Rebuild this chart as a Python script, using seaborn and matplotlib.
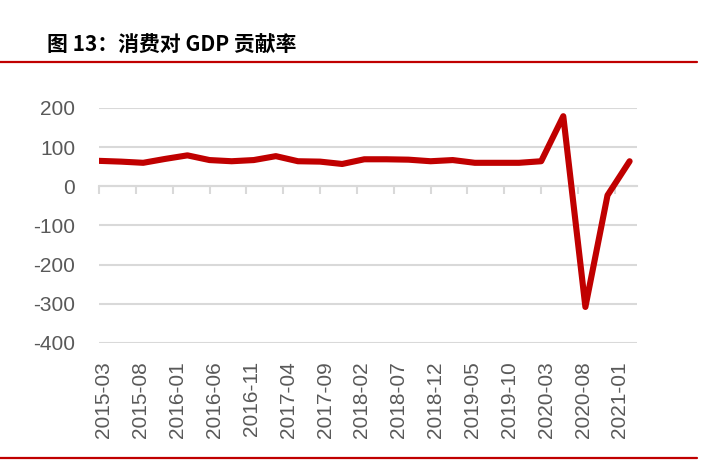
import pandas as pd
import seaborn as sns
import matplotlib.pyplot as plt
import matplotlib.transforms as mtransforms
from matplotlib.lines import Line2D

# --- DATA ---
QUARTERS = [
    "2015-03", "2015-06", "2015-09", "2015-12",
    "2016-03", "2016-06", "2016-09", "2016-12",
    "2017-03", "2017-06", "2017-09", "2017-12",
    "2018-03", "2018-06", "2018-09", "2018-12",
    "2019-03", "2019-06", "2019-09", "2019-12",
    "2020-03", "2020-06", "2020-09", "2020-12",
    "2021-03",
]
CONTRIBUTION = [
    65, 63, 60, 70,
    79, 67, 64, 67,
    77, 64, 63, 57,
    69, 69, 68, 64,
    67, 60, 60, 60,
    64, 179, -308, -23,
    64,
]
TICK_LABELS = [
    "2015-03", "2015-08", "2016-01", "2016-06", "2016-11", "2017-04",
    "2017-09", "2018-02", "2018-07", "2018-12", "2019-05", "2019-10",
    "2020-03", "2020-08", "2021-01",
]
Y_TICKS = [-400, -300, -200, -100, 0, 100, 200]
TITLE = "图 13：消费对 GDP 贡献率"

RED = "#C00000"
GRID = "#D9D9D9"
TEXT_GRAY = "#595959"


def month_index(labels):
    # months elapsed since the first quarter, so the x axis behaves like a date axis
    d = pd.to_datetime(labels, format="%Y-%m")
    return (d.year - 2015) * 12 + (d.month - 3)


def main():
    sns.set_theme(style="white")
    plt.rcParams["font.family"] = ["Liberation Sans", "Noto Sans CJK SC", "DejaVu Sans"]

    df = pd.DataFrame({"month": month_index(QUARTERS), "value": CONTRIBUTION})
    tick_pos = list(month_index(TICK_LABELS))

    fig = plt.figure(figsize=(7.11, 4.61), dpi=100)
    ax = fig.add_axes([0.1392, 0.256, 0.7567, 0.5098])

    sns.lineplot(data=df, x="month", y="value", color=RED, linewidth=4.4,
                 solid_capstyle="round", solid_joinstyle="round", ax=ax, zorder=3)

    ax.set_xlim(0, 73.0)
    ax.set_ylim(-400, 200)
    ax.set_yticks(Y_TICKS)
    ax.set_yticklabels([str(v) for v in Y_TICKS])
    ax.yaxis.grid(True, color=GRID, linewidth=1.5)
    ax.set_axisbelow(True)
    ax.set_xlabel("")
    ax.set_ylabel("")

    for side in ["top", "right", "left"]:
        ax.spines[side].set_visible(False)
    # axis line with tick marks sits at zero
    ax.spines["bottom"].set_position(("data", 0))
    ax.spines["bottom"].set_color(GRID)
    ax.spines["bottom"].set_linewidth(1.5)
    ax.set_xticks(tick_pos)
    ax.tick_params(axis="x", direction="out", length=6, width=1.5, color=GRID,
                   labelbottom=False, bottom=True)
    ax.tick_params(axis="y", length=0, pad=17, labelsize=15, labelcolor=TEXT_GRAY)

    # date labels stay under the plot area
    sec = ax.secondary_xaxis("bottom")
    sec.set_xticks(tick_pos)
    sec.set_xticklabels(TICK_LABELS, rotation=90, fontsize=15, color=TEXT_GRAY)
    sec.tick_params(length=0, pad=13)
    sec.spines["bottom"].set_visible(False)
    shift = mtransforms.ScaledTranslation(5 / 100, 0, fig.dpi_scale_trans)
    for lab in sec.get_xticklabels():
        lab.set_transform(lab.get_transform() + shift)

    fig.text(47 / 711, 0.902, TITLE, fontsize=15, fontweight="bold", color="black",
             family=["Noto Sans CJK SC", "DejaVu Sans"], va="center", ha="left")

    fig.add_artist(Line2D([0, 0.98], [0.8655, 0.8655], transform=fig.transFigure,
                          color=RED, linewidth=1.6))
    fig.add_artist(Line2D([0, 0.98], [0.0065, 0.0065], transform=fig.transFigure,
                          color=RED, linewidth=1.6))

    fig.savefig("out.png", dpi=100, facecolor="white")
    plt.close(fig)


if __name__ == "__main__":
    main()
